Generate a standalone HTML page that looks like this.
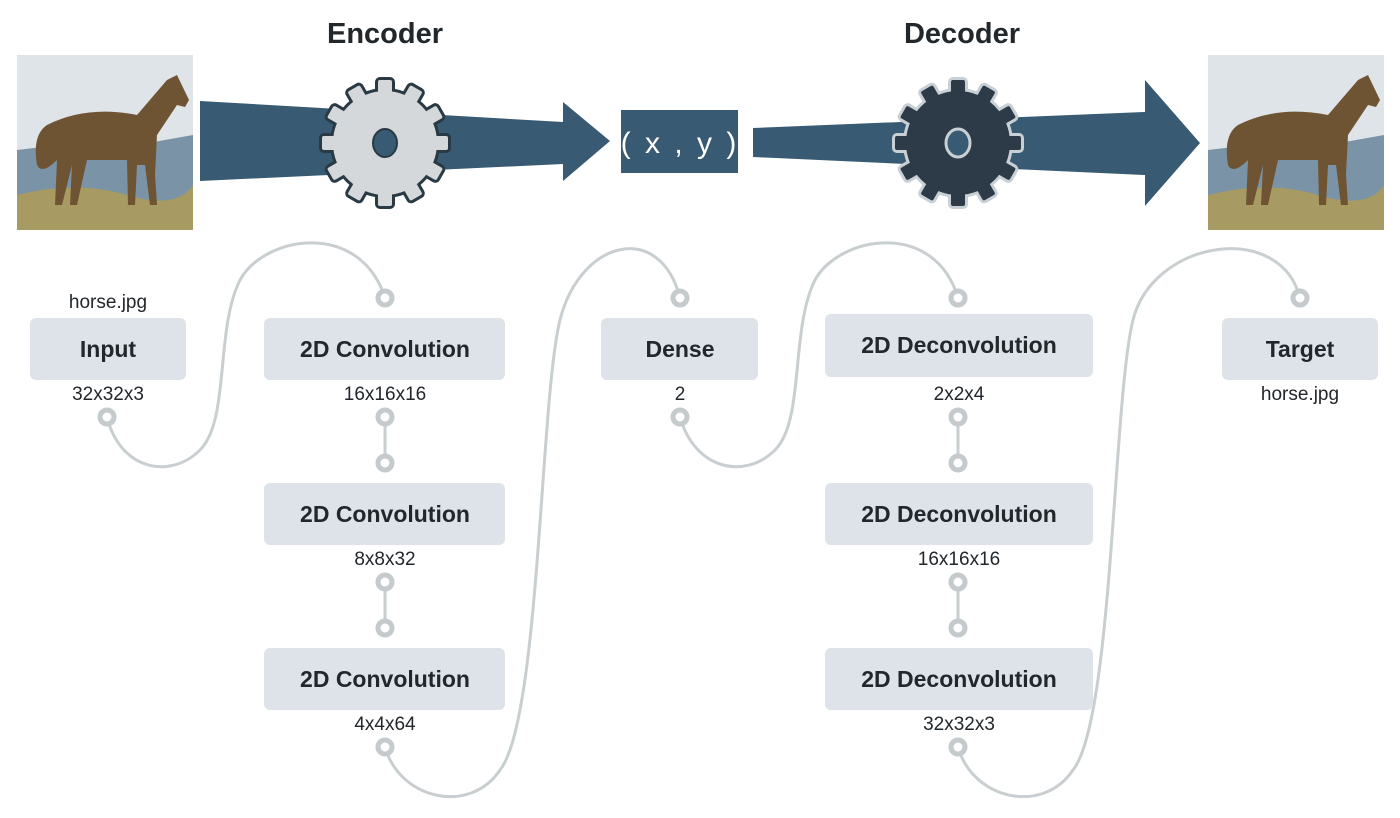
<!DOCTYPE html>
<html><head><meta charset="utf-8"><style>
html,body{margin:0;padding:0;background:#fff}
svg{display:block}
text{font-family:"Liberation Sans","DejaVu Sans",sans-serif}
.t{font-weight:bold;font-size:23px;fill:#22272c;text-anchor:middle}
.s{font-size:19px;fill:#22272c;text-anchor:middle}
.box{fill:#dde3e9}
.c{fill:none;stroke:#c9ced1;stroke-width:3}
.p{fill:#fff;stroke:#c5cacd;stroke-width:5}
</style></head><body>
<svg width="1400" height="818" viewBox="0 0 1400 818" xmlns="http://www.w3.org/2000/svg">
<defs>
<g id="horse">
<rect x="0" y="0" width="176" height="175" fill="#dfe4e8"/>
<path d="M0 95 L60 88 L120 90 L176 80 L176 175 L0 175 Z" fill="#7a93a6"/>
<path d="M0 140 Q60 125 110 140 T176 130 L176 175 L0 175 Z" fill="#a79b63"/>
<path d="M30 70 Q70 50 120 60 L150 25 L160 20 L172 45 L168 52 L160 50 L140 80 L138 120 L140 150 L133 150 L128 110 L120 110 L118 150 L111 150 L110 105 L70 105 L60 150 L53 150 L55 110 L45 150 L38 150 L40 105 Q25 120 20 110 Q15 80 30 70 Z" fill="#6f5434"/>
</g>
<g id="gear">
<circle r="52"/>
<rect x="-7" y="-63" width="14" height="20" rx="2"/>
<rect x="-7" y="-63" width="14" height="20" rx="2" transform="rotate(30)"/>
<rect x="-7" y="-63" width="14" height="20" rx="2" transform="rotate(60)"/>
<rect x="-7" y="-63" width="14" height="20" rx="2" transform="rotate(90)"/>
<rect x="-7" y="-63" width="14" height="20" rx="2" transform="rotate(120)"/>
<rect x="-7" y="-63" width="14" height="20" rx="2" transform="rotate(150)"/>
<rect x="-7" y="-63" width="14" height="20" rx="2" transform="rotate(180)"/>
<rect x="-7" y="-63" width="14" height="20" rx="2" transform="rotate(210)"/>
<rect x="-7" y="-63" width="14" height="20" rx="2" transform="rotate(240)"/>
<rect x="-7" y="-63" width="14" height="20" rx="2" transform="rotate(270)"/>
<rect x="-7" y="-63" width="14" height="20" rx="2" transform="rotate(300)"/>
<rect x="-7" y="-63" width="14" height="20" rx="2" transform="rotate(330)"/>
</g>
</defs>

<text x="385" y="43" style="font-weight:bold;font-size:29px;fill:#22272c;text-anchor:middle">Encoder</text>
<text x="962" y="43" style="font-weight:bold;font-size:29px;fill:#22272c;text-anchor:middle">Decoder</text>

<use href="#horse" x="17" y="55"/>
<use href="#horse" x="1208" y="55"/>

<path d="M200 101 L563 122 L563 102 L610 141 L563 181 L563 164 L200 181 Z" fill="#385a72"/>
<rect x="621" y="110" width="117" height="63" fill="#385a72"/>
<text x="680" y="153" style="font-size:30px;fill:#fff;text-anchor:middle;letter-spacing:3px">( x , y )</text>
<path d="M753 128 L1145 112 L1145 80 L1200 143 L1145 206 L1145 175 L753 157 Z" fill="#385a72"/>

<g transform="translate(385,143)">
<use href="#gear" fill="#2a3a45" stroke="#2a3a45" stroke-width="6"/>
<use href="#gear" fill="#d4d8db"/>
<ellipse rx="12" ry="14" fill="#385a72" stroke="#2a3a45" stroke-width="2"/>
</g>
<g transform="translate(958,143)">
<use href="#gear" fill="#c9d0d5" stroke="#c9d0d5" stroke-width="6"/>
<use href="#gear" fill="#2c3b47"/>
<ellipse rx="12" ry="14" fill="#385a72" stroke="#c9d0d5" stroke-width="3"/>
</g>

<path class="c" d="M107 417 C120 470 170 480 200 450 C230 420 215 330 240 280 C265 235 360 220 385 298"/>
<line class="c" x1="385" y1="417" x2="385" y2="463"/>
<line class="c" x1="385" y1="582" x2="385" y2="628"/>
<path class="c" d="M385 747 C400 800 470 815 500 770 C540 720 540 400 560 320 C580 240 660 220 680 298"/>
<path class="c" d="M680 417 C695 470 745 480 775 450 C805 420 790 330 815 280 C840 235 935 220 958 298"/>
<line class="c" x1="958" y1="417" x2="958" y2="463"/>
<line class="c" x1="958" y1="582" x2="958" y2="628"/>
<path class="c" d="M958 747 C973 800 1043 815 1073 770 C1113 720 1113 400 1133 320 C1153 240 1280 220 1300 298"/>

<rect class="box" x="30" y="318" width="156" height="62" rx="6"/>
<rect class="box" x="264" y="318" width="241" height="62" rx="6"/>
<rect class="box" x="264" y="483" width="241" height="62" rx="6"/>
<rect class="box" x="264" y="648" width="241" height="62" rx="6"/>
<rect class="box" x="601" y="318" width="157" height="62" rx="6"/>
<rect class="box" x="825" y="314" width="268" height="63" rx="6"/>
<rect class="box" x="825" y="483" width="268" height="62" rx="6"/>
<rect class="box" x="825" y="648" width="268" height="62" rx="6"/>
<rect class="box" x="1222" y="318" width="156" height="62" rx="6"/>

<text class="t" x="108" y="357">Input</text>
<text class="t" x="385" y="357">2D Convolution</text>
<text class="t" x="385" y="522">2D Convolution</text>
<text class="t" x="385" y="687">2D Convolution</text>
<text class="t" x="680" y="357">Dense</text>
<text class="t" x="959" y="353">2D Deconvolution</text>
<text class="t" x="959" y="522">2D Deconvolution</text>
<text class="t" x="959" y="687">2D Deconvolution</text>
<text class="t" x="1300" y="357">Target</text>

<text class="s" x="108" y="308">horse.jpg</text>
<text class="s" x="108" y="400">32x32x3</text>
<text class="s" x="385" y="400">16x16x16</text>
<text class="s" x="385" y="565">8x8x32</text>
<text class="s" x="385" y="730">4x4x64</text>
<text class="s" x="680" y="400">2</text>
<text class="s" x="959" y="400">2x2x4</text>
<text class="s" x="959" y="565">16x16x16</text>
<text class="s" x="959" y="730">32x32x3</text>
<text class="s" x="1300" y="400">horse.jpg</text>

<circle class="p" cx="107" cy="417" r="7"/>
<circle class="p" cx="385" cy="298" r="7"/>
<circle class="p" cx="385" cy="417" r="7"/>
<circle class="p" cx="385" cy="463" r="7"/>
<circle class="p" cx="385" cy="582" r="7"/>
<circle class="p" cx="385" cy="628" r="7"/>
<circle class="p" cx="385" cy="747" r="7"/>
<circle class="p" cx="680" cy="298" r="7"/>
<circle class="p" cx="680" cy="417" r="7"/>
<circle class="p" cx="958" cy="298" r="7"/>
<circle class="p" cx="958" cy="417" r="7"/>
<circle class="p" cx="958" cy="463" r="7"/>
<circle class="p" cx="958" cy="582" r="7"/>
<circle class="p" cx="958" cy="628" r="7"/>
<circle class="p" cx="958" cy="747" r="7"/>
<circle class="p" cx="1300" cy="298" r="7"/>
</svg>
</body></html>
